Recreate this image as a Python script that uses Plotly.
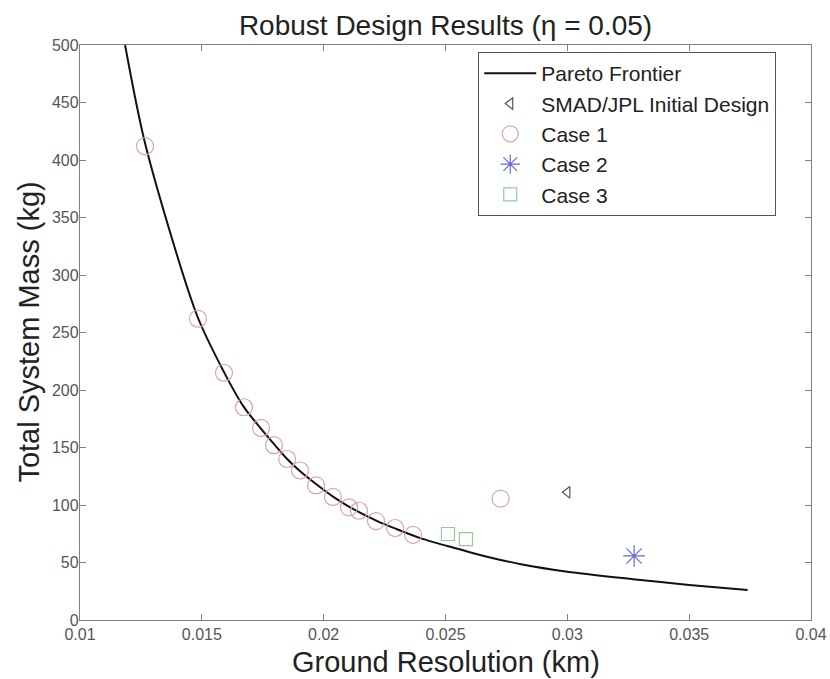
import plotly.graph_objects as go

# Pareto frontier
pareto_x = [0.01185, 0.0127, 0.0148, 0.0159, 0.0167, 0.0174, 0.0180, 0.0185, 0.0190,
            0.0197, 0.0204, 0.0210, 0.0222, 0.0230, 0.0240, 0.0253, 0.0267, 0.0281,
            0.0300, 0.0327, 0.0350, 0.0374]
pareto_y = [500, 412, 265, 216, 186, 167, 152, 140, 130,
            118, 107, 99, 86, 79, 71, 63, 55, 48.5,
            42, 35.5, 30.5, 26]

smad_x = [0.0300]
smad_y = [111]

case1_x = [0.01267, 0.01484, 0.01591, 0.01673, 0.01743, 0.01796, 0.01850, 0.01903,
           0.01969, 0.02038, 0.02104, 0.02145, 0.02215, 0.02293, 0.02367, 0.02726]
case1_y = [412, 262, 215, 185, 167, 152, 140, 130,
           117, 107, 98, 95, 86, 80, 74, 105.5]

case2_x = [0.03274]
case2_y = [55.7]

case3_x = [0.02510, 0.02584]
case3_y = [74.8, 70.4]

x_ticks = [0.01, 0.015, 0.02, 0.025, 0.03, 0.035, 0.04]
x_tick_labels = ["0.01", "0.015", "0.02", "0.025", "0.03", "0.035", "0.04"]
y_ticks = [0, 50, 100, 150, 200, 250, 300, 350, 400, 450, 500]

FONT = "Arial, Liberation Sans, sans-serif"

fig = go.Figure()
fig.add_trace(go.Scatter(x=pareto_x, y=pareto_y, mode="lines", name="Pareto Frontier",
                         line=dict(color="#111111", width=2, shape="spline", smoothing=0.8)))
fig.add_trace(go.Scatter(x=smad_x, y=smad_y, mode="markers", name="SMAD/JPL Initial Design",
                         marker=dict(symbol="triangle-left-open", size=10, color="#555555",
                                     line=dict(width=1.2, color="#555555"))))
fig.add_trace(go.Scatter(x=case1_x, y=case1_y, mode="markers", name="Case 1",
                         marker=dict(symbol="circle-open", size=17, color="#d9a3ad",
                                     line=dict(width=1.2, color="#d9a3ad"))))
fig.add_trace(go.Scatter(x=case2_x, y=case2_y, mode="markers", name="Case 2",
                         marker=dict(symbol="asterisk-open", size=18, color="#6a6ad8",
                                     line=dict(width=1.2, color="#6a6ad8"))))
fig.add_trace(go.Scatter(x=case3_x, y=case3_y, mode="markers", name="Case 3",
                         marker=dict(symbol="square-open", size=13, color="#8fcf95",
                                     line=dict(width=1.2, color="#8fcf95"))))

axis_common = dict(showgrid=False, zeroline=False, showline=True, linecolor="#808080",
                   linewidth=1.3, mirror="ticks", ticks="inside", ticklen=6,
                   tickcolor="#808080", automargin=False,
                   tickfont=dict(family=FONT, size=16, color="#555555"))

fig.update_layout(
    width=830, height=679,
    margin=dict(l=80, r=19, t=45, b=59, autoexpand=False),
    paper_bgcolor="white", plot_bgcolor="white",
    font=dict(family=FONT, color="#222222"),
    title=dict(text="Robust Design Results (\u03b7 = 0.05)", x=0.5, xref="paper",
               xanchor="center", y=1 - 25 / 679, yref="container", yanchor="middle",
               font=dict(size=28, color="#222222")),
    xaxis=dict(range=[0.01, 0.04], tickvals=x_ticks, ticktext=x_tick_labels,
               ticklabelstandoff=0, **axis_common),
    yaxis=dict(range=[0, 500], tickvals=y_ticks, ticklabelstandoff=-3, **axis_common),
    legend=dict(x=0.5445, y=0.988, xanchor="left", yanchor="top",
                bgcolor="white", bordercolor="#555555", borderwidth=1.2,
                font=dict(size=21, color="#222222"), itemwidth=52,
                tracegroupgap=0),
    showlegend=True,
    annotations=[
        dict(text="Ground Resolution (km)", xref="paper", yref="paper", x=0.5, y=-0.073,
             xanchor="center", yanchor="middle", showarrow=False,
             font=dict(family=FONT, size=29, color="#222222")),
        dict(text="Total System Mass (kg)", xref="paper", yref="paper", x=-0.071, y=0.5,
             xanchor="center", yanchor="middle", textangle=-90, showarrow=False,
             font=dict(family=FONT, size=29, color="#222222")),
    ],
)

fig.write_html("out.html", config={"displayModeBar": False},
               post_script="document.body.style.margin='0';document.body.style.overflow='hidden';")
